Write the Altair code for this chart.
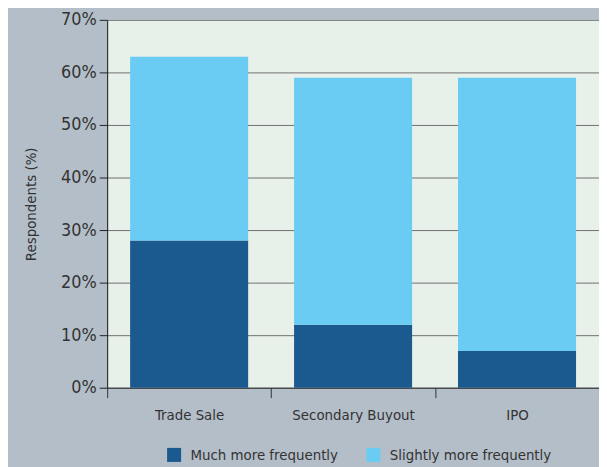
import altair as alt
import pandas as pd

categories = ["Trade Sale", "Secondary Buyout", "IPO"]
series = ["Much more frequently", "Slightly more frequently"]
much_more = [28, 12, 7]
slightly_more = [35, 47, 52]

rows = []
for i, c in enumerate(categories):
    rows.append({"exit": c, "series": series[0], "value": much_more[i], "ord": 0})
    rows.append({"exit": c, "series": series[1], "value": slightly_more[i], "ord": 1})
df = pd.DataFrame(rows)

FONT = "Liberation Sans Narrow, DejaVu Sans Condensed, sans-serif"

chart = alt.Chart(df).mark_bar(width={"band": 0.72}).encode(
    x=alt.X("exit:N", sort=categories,
            scale=alt.Scale(paddingInner=0, paddingOuter=0),
            axis=alt.Axis(title=None, labelAngle=0, tickBand="extent", tickSize=10,
                          tickColor="#333", domainColor="#333", labelFontSize=15,
                          labelPadding=10, labelColor="#333", labelFont=FONT, grid=False)),
    y=alt.Y("value:Q", stack="zero",
            scale=alt.Scale(domain=[0, 70], nice=False),
            axis=alt.Axis(title="Respondents (%)", values=[0, 10, 20, 30, 40, 50, 60, 70],
                          labelExpr="datum.value + '%'", tickSize=8, tickColor="#222",
                          domainColor="#111", labelFontSize=18, labelColor="#333",
                          labelFont=FONT, labelPadding=3,
                          titleFont=FONT, titleFontSize=15, titleFontWeight="normal",
                          titleColor="#333", titlePadding=22,
                          grid=True, gridColor="#707070", gridWidth=1)),
    color=alt.Color("series:N", scale=alt.Scale(domain=series, range=["#1b5a8e", "#6accf3"]),
                    legend=alt.Legend(title=None, orient="none", direction="horizontal",
                                      legendX=60, legendY=431, symbolType="square",
                                      symbolSize=200, symbolStrokeWidth=0, labelFontSize=15,
                                      labelFont=FONT, labelColor="#333", labelOffset=9,
                                      labelLimit=0, columnPadding=28)),
    order=alt.Order("ord:Q"),
).properties(
    width=496, height=371,
    background="#b3bec8",
    padding={"left": 100, "top": 10, "right": 0, "bottom": 78},
    autosize=alt.AutoSizeParams(type="none"),
).configure_view(fill="#e8f0ea", stroke=None)

chart.save("out.html", embed_options={"renderer": "svg", "actions": False})
